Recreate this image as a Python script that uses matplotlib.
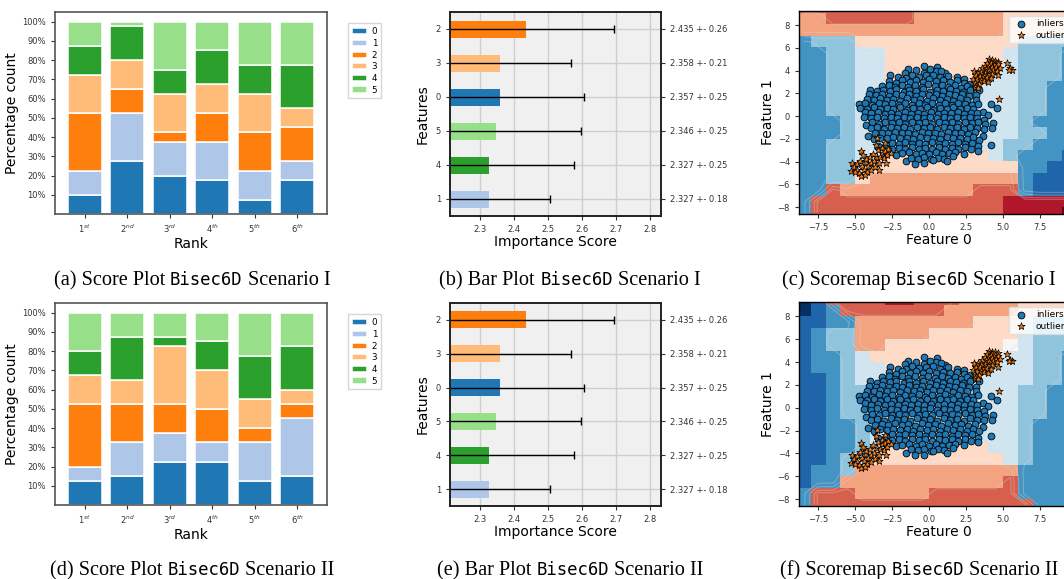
import matplotlib
matplotlib.use('Agg')
import matplotlib.pyplot as plt
import numpy as np

W, H = 1064, 579
fig = plt.figure(figsize=(W / 100, H / 100), dpi=100)

# ---------------- data ----------------
rank_labels = ['1$^{st}$', '2$^{nd}$', '3$^{rd}$', '4$^{th}$', '5$^{th}$', '6$^{th}$']
feature_names = ['0', '1', '2', '3', '4', '5']

# percentage share of each feature (rows) at each rank (columns)
scenario1_shares = [
    [10, 27.5, 20, 17.5, 7.5, 17.5],
    [12.5, 25, 17.5, 20, 15, 10],
    [30, 12.5, 5, 15, 20, 17.5],
    [20, 15, 20, 15, 20, 10],
    [15, 17.5, 12.5, 17.5, 15, 22.5],
    [12.5, 2.5, 25, 15, 22.5, 22.5],
]
scenario2_shares = [
    [12.5, 15, 22.5, 22.5, 12.5, 15],
    [7.5, 17.5, 15, 10, 20, 30],
    [32.5, 20, 15, 17.5, 7.5, 7.5],
    [15, 12.5, 30, 20, 15, 7.5],
    [12.5, 22.5, 5, 15, 22.5, 22.5],
    [20, 12.5, 12.5, 15, 22.5, 17.5],
]

# bar plot (same in both scenarios), bottom to top
bar_features = [1, 4, 5, 0, 3, 2]
bar_scores = [2.327, 2.327, 2.346, 2.357, 2.358, 2.435]
bar_errors = [0.18, 0.25, 0.25, 0.25, 0.21, 0.26]
bar_xticks = [2.3, 2.4, 2.5, 2.6, 2.7, 2.8]

# score maps: level per 1x1 cell, x from -9 to 10 (cols), y from 10 down to -9 (rows)
scoremap_I = [
    "8888888877777766666",
    "7788888877777766666",
    "7777777777777766666",
    "2333666666666663333",
    "2233446666666643332",
    "2233446666666643332",
    "2233446666666443332",
    "2233444466644443322",
    "2233444444444443322",
    "2233444444444443322",
    "2223444444444443222",
    "2223444444444443322",
    "2233444444444433222",
    "2233456666666432221",
    "2233566666666662211",
    "2233677777777772111",
    "2287777777778882111",
    "2888888888888899999",
    "288888888888889999A",
]
scoremap_II = [
    "0188889988877776666",
    "0128888888777776666",
    "1122777777776664333",
    "1233777776666664333",
    "1233776666666654333",
    "1223466666666544332",
    "1223446666666444332",
    "1123446666664444332",
    "1123344666644443322",
    "1123344444444443322",
    "1123344444444443322",
    "1122344444444443222",
    "1122344444444443222",
    "1122346666666443222",
    "1123466666666643222",
    "1223777777777772222",
    "1227777777777782222",
    "2888777778888882222",
    "2888888888888888222",
]

inlier_points = [
    (-0.35, 4.45), (0.52, 4.36), (0.47, 4.0), (1.1, 3.77), (-1.41, 4.12), (-1.64, 3.83), (-0.9, 4.02), (0.05, 4.12), (-0.3, 3.82), (0.85, 3.95),
    (-2.63, 3.6), (-2.1, 3.42), (-1.55, 3.35), (-1.15, 3.62), (-0.65, 3.48), (-0.2, 3.58), (0.3, 3.66), (0.75, 3.42), (1.3, 3.56), (1.88, 3.42), (2.35, 3.27),
    (-2.7, 3.1), (-2.2, 2.96), (-1.8, 3.18), (-1.3, 3.02), (-0.9, 3.2), (-0.42, 3.0), (0.02, 3.24), (0.45, 3.06), (0.98, 3.16), (1.42, 3.0), (1.92, 3.14), (2.39, 2.95), (2.8, 2.82),
    (-3.2, 2.65), (-2.72, 2.74), (-2.3, 2.55), (-1.82, 2.78), (-1.42, 2.6), (-0.95, 2.74), (-0.5, 2.56), (-0.05, 2.8), (0.42, 2.62), (0.86, 2.78), (1.3, 2.58), (1.76, 2.72), (2.2, 2.5), (2.6, 2.68), (2.93, 2.48),
    (-3.99, 2.31), (-3.52, 2.18), (-3.1, 2.34), (-2.62, 2.22), (-2.2, 2.38), (-1.72, 2.16), (-1.32, 2.32), (-0.85, 2.2), (-0.38, 2.38), (0.05, 2.16), (0.52, 2.32), (0.95, 2.18), (1.42, 2.38), (1.85, 2.22), (2.3, 2.16), (2.76, 2.32), (3.4, 2.31),
    (-4.04, 1.93), (-3.58, 1.82), (-3.15, 1.98), (-2.7, 1.78), (-2.25, 1.92), (-1.8, 1.82), (-1.35, 1.98), (-0.88, 1.78), (-0.45, 1.94), (0.02, 1.82), (0.46, 1.98), (0.9, 1.78), (1.36, 1.92), (1.8, 1.84), (2.26, 1.98), (2.7, 1.78), (3.17, 1.85),
    (-4.2, 1.5), (-3.74, 1.42), (-3.3, 1.58), (-2.84, 1.44), (-2.4, 1.52), (-1.94, 1.38), (-1.5, 1.56), (-1.04, 1.42), (-0.6, 1.52), (-0.14, 1.38), (0.3, 1.58), (0.76, 1.44), (1.2, 1.52), (1.66, 1.38), (2.1, 1.56), (2.56, 1.44), (3.17, 1.43),
    (-4.74, 1.05), (-4.3, 1.12), (-3.85, 0.98), (-3.4, 1.16), (-2.95, 1.04), (-2.5, 1.12), (-2.04, 0.98), (-1.6, 1.12), (-1.15, 1.02), (-0.7, 1.16), (-0.25, 0.98), (0.2, 1.12), (0.66, 1.02), (1.1, 1.16), (1.55, 0.98), (2.0, 1.12), (2.45, 1.04), (2.9, 0.98), (3.3, 1.1), (4.23, 1.05),
    (-4.65, 0.7), (-4.2, 0.64), (-3.75, 0.78), (-3.3, 0.6), (-2.85, 0.72), (-2.4, 0.62), (-1.95, 0.78), (-1.5, 0.58), (-1.05, 0.72), (-0.6, 0.62), (-0.15, 0.78), (0.3, 0.58), (0.75, 0.72), (1.2, 0.64), (1.65, 0.78), (2.1, 0.6), (2.55, 0.72), (3.0, 0.64), (3.64, 0.41), (4.58, 0.7),
    (-4.34, 0.38), (-3.9, 0.24), (-3.45, 0.36), (-3.0, 0.2), (-2.55, 0.32), (-2.1, 0.22), (-1.65, 0.36), (-1.2, 0.2), (-0.75, 0.32), (-0.3, 0.22), (0.15, 0.36), (0.6, 0.2), (1.05, 0.32), (1.5, 0.24), (1.95, 0.36), (2.4, 0.2), (2.85, 0.3), (3.25, 0.24), (3.99, 0.12),
    (-4.4, -0.1), (-3.95, -0.16), (-3.5, -0.04), (-3.05, -0.2), (-2.6, -0.08), (-2.15, -0.16), (-1.7, -0.04), (-1.25, -0.2), (-0.8, -0.08), (-0.35, -0.16), (0.1, -0.04), (0.55, -0.2), (1.0, -0.08), (1.45, -0.16), (1.9, -0.04), (2.35, -0.2), (2.8, -0.08), (3.25, -0.16), (3.7, -0.3),
    (-4.27, -0.79), (-3.85, -0.54), (-3.4, -0.66), (-2.95, -0.5), (-2.5, -0.62), (-2.05, -0.54), (-1.6, -0.66), (-1.15, -0.5), (-0.7, -0.62), (-0.25, -0.54), (0.2, -0.66), (0.65, -0.5), (1.1, -0.62), (1.55, -0.54), (2.0, -0.66), (2.45, -0.5), (2.9, -0.62), (3.35, -0.54), (3.8, -0.7), (4.34, -0.61),
    (-3.95, -1.06), (-3.5, -0.98), (-3.05, -1.12), (-2.6, -0.94), (-2.15, -1.06), (-1.7, -0.98), (-1.25, -1.12), (-0.8, -0.94), (-0.35, -1.06), (0.1, -0.98), (0.55, -1.12), (1.0, -0.94), (1.45, -1.06), (1.9, -0.98), (2.35, -1.12), (2.8, -0.94), (3.25, -1.06), (3.7, -1.1), (4.27, -1.05),
    (-4.13, -1.78), (-3.64, -1.49), (-3.2, -1.44), (-2.75, -1.52), (-2.3, -1.38), (-1.85, -1.52), (-1.4, -1.44), (-0.95, -1.56), (-0.5, -1.38), (-0.05, -1.52), (0.4, -1.44), (0.85, -1.56), (1.3, -1.38), (1.75, -1.52), (2.2, -1.44), (2.65, -1.56), (3.1, -1.4), (3.69, -1.73),
    (-3.75, -2.0), (-3.3, -1.9), (-2.85, -1.96), (-2.4, -1.84), (-1.95, -1.96), (-1.5, -1.88), (-1.05, -2.02), (-0.6, -1.84), (-0.15, -1.96), (0.3, -1.88), (0.75, -2.02), (1.2, -1.84), (1.65, -1.96), (2.1, -1.88), (2.55, -2.02), (3.0, -1.84), (3.4, -2.05),
    (-3.45, -2.66), (-2.93, -2.54), (-2.5, -2.34), (-2.05, -2.42), (-1.6, -2.28), (-1.15, -2.42), (-0.7, -2.34), (-0.25, -2.46), (0.2, -2.28), (0.65, -2.42), (1.1, -2.34), (1.55, -2.46), (2.0, -2.28), (2.45, -2.42), (2.9, -2.34), (4.18, -2.51),
    (-2.5, -2.86), (-2.05, -2.78), (-1.6, -2.92), (-1.15, -2.74), (-0.7, -2.86), (-0.25, -2.78), (0.2, -2.92), (0.65, -2.74), (1.1, -2.86), (1.55, -2.78), (2.0, -2.92), (2.45, -2.74), (2.85, -2.9), (3.33, -2.66),
    (-2.23, -3.39), (-1.8, -3.24), (-1.35, -3.18), (-0.9, -3.32), (-0.45, -3.2), (0.0, -3.32), (0.45, -3.18), (0.9, -3.32), (1.35, -3.24), (1.8, -3.18), (2.39, -3.3), (3.33, -3.04),
    (-1.53, -3.92), (-1.2, -3.64), (-0.75, -3.72), (-0.3, -3.6), (0.15, -3.76), (0.6, -3.64), (1.05, -3.72), (1.64, -3.54),
    (-0.94, -4.18), (-0.35, -4.12), (0.31, -3.83), (1.2, -3.92),
]

outlier_points = [
    (4.1, 5.0), (4.3, 4.9), (4.5, 4.85), (4.7, 4.8), (3.95, 4.7), (4.2, 4.65), (4.45, 4.6), (4.65, 4.55), (5.3, 4.7),
    (3.8, 4.45), (4.05, 4.4), (4.3, 4.35), (4.55, 4.3), (4.8, 4.25), (5.5, 4.2), (5.65, 4.1), (5.4, 4.05),
    (3.6, 4.2), (3.85, 4.15), (4.1, 4.1), (4.35, 4.05), (4.6, 4.0), (3.05, 3.95), (3.3, 3.9), (3.55, 3.85),
    (3.8, 3.8), (4.05, 3.75), (4.3, 3.7), (4.65, 3.6), (3.2, 3.6), (3.45, 3.55), (3.7, 3.5), (3.95, 3.45),
    (4.2, 3.4), (3.0, 3.3), (3.25, 3.25), (3.5, 3.2), (3.75, 3.1), (4.0, 3.05), (3.15, 2.9), (3.4, 2.85),
    (3.12, 2.6), (3.35, 2.5), (4.74, 1.5),
    (-5.2, -4.1), (-5.3, -4.85), (-5.05, -4.5), (-4.9, -4.2), (-4.85, -4.75), (-4.75, -5.0), (-4.6, -5.3),
    (-4.6, -3.1), (-4.65, -3.9), (-4.5, -4.4), (-4.4, -4.7), (-4.35, -4.05), (-4.25, -3.75), (-4.2, -4.95),
    (-4.1, -4.4), (-4.0, -3.6), (-3.95, -4.15), (-3.9, -4.75), (-3.8, -3.3), (-3.75, -3.95), (-3.65, -4.5),
    (-3.55, -3.55), (-3.45, -3.0), (-3.4, -4.7), (-3.35, -4.1), (-3.3, -3.6), (-3.2, -2.8), (-3.1, -3.2),
    (-3.05, -3.7), (-2.95, -3.1), (-2.9, -4.1), (-2.85, -3.45), (-2.75, -2.9), (-3.5, -1.95), (-3.6, -2.5),
    (-3.0, -2.4), (-2.6, -3.2), (-4.45, -3.4), (-5.0, -4.95), (-4.3, -5.15),
]

map_xticks = [-7.5, -5.0, -2.5, 0.0, 2.5, 5.0, 7.5]
map_yticks = [-8, -6, -4, -2, 0, 2, 4, 6, 8]

captions = [
    ("(a) Score Plot", "Bisec6D", "Scenario I"),
    ("(b) Bar Plot", "Bisec6D", "Scenario I"),
    ("(c) Scoremap", "Bisec6D", "Scenario I"),
    ("(d) Score Plot", "Bisec6D", "Scenario II"),
    ("(e) Bar Plot", "Bisec6D", "Scenario II"),
    ("(f) Scoremap", "Bisec6D", "Scenario II"),
]

# ---------------- helpers ----------------
tab20 = plt.get_cmap('tab20')
feat_colors = [tab20(i) for i in range(6)]
TICK_FS = 6
LAB_FS = 10


def px_axes(l, t, r, b):
    return fig.add_axes([l / W, 1 - b / H, (r - l) / W, (b - t) / H])


def score_plot(ax, shares):
    x = np.arange(len(rank_labels))
    bottom = np.zeros(len(rank_labels))
    for f, vals in enumerate(shares):
        vals = np.array(vals, dtype=float)
        ax.bar(x, vals, 0.8, bottom=bottom, color=feat_colors[f], edgecolor='white',
               linewidth=1.1, label=feature_names[f])
        bottom += vals
    ax.set_xlim(-0.7, 5.7)
    ax.set_ylim(0, 105)
    ax.set_xticks(x)
    ax.set_xticklabels(rank_labels)
    ax.set_yticks(np.arange(10, 101, 10))
    ax.set_yticklabels([f"{v}%" for v in range(10, 101, 10)])
    ax.tick_params(labelsize=TICK_FS, length=3, width=0.8, colors='#333333')
    ax.set_xlabel('Rank', fontsize=LAB_FS, labelpad=1)
    ax.set_ylabel('Percentage count', fontsize=LAB_FS, labelpad=2)
    for s in ax.spines.values():
        s.set_color('#555555')
        s.set_linewidth(1.2)
    ax.legend(loc='upper left', bbox_to_anchor=(1.06, 0.965), fontsize=6.3,
              handlelength=1.7, handleheight=0.7, borderpad=0.45, labelspacing=0.3,
              handletextpad=0.6, frameon=True, edgecolor='#cccccc', fancybox=False)


def bar_plot(ax):
    y = np.arange(len(bar_features))
    ax.set_facecolor('#f0f0f0')
    ax.set_axisbelow(True)
    ax.grid(True, color='#cfcfcf', linewidth=1.0)
    ax.barh(y, bar_scores, height=0.5, color=[feat_colors[f] for f in bar_features],
            xerr=bar_errors, error_kw=dict(ecolor='black', elinewidth=1.0, capsize=3, capthick=1.0))
    ax.set_xlim(2.211, 2.833)
    ax.set_ylim(-0.5, 5.5)
    ax.set_xticks(bar_xticks)
    ax.set_xticklabels([f"{v:.1f}" for v in bar_xticks])
    ax.set_yticks(y)
    ax.set_yticklabels([str(f) for f in bar_features])
    ax.tick_params(labelsize=TICK_FS, length=3, width=0.8, colors='#333333')
    ax.set_xlabel('Importance Score', fontsize=LAB_FS, labelpad=1)
    ax.set_ylabel('Features', fontsize=LAB_FS, labelpad=4)
    for s in ax.spines.values():
        s.set_color('#222222')
        s.set_linewidth(1.4)
    ax2 = ax.twinx()
    ax2.set_ylim(ax.get_ylim())
    ax2.set_yticks(y)
    ax2.set_yticklabels([f"{s:.3f} +- {e:.2f}" for s, e in zip(bar_scores, bar_errors)])
    ax2.tick_params(labelsize=TICK_FS, length=3, width=0.8, colors='#333333')
    for s in ax2.spines.values():
        s.set_visible(False)


def score_map(ax, rows):
    grid = np.array([[int(c, 16) for c in r] for r in rows], dtype=float)
    ax.imshow(grid, cmap='RdBu_r', vmin=0, vmax=10, extent=(-9, 10, -9, 10),
              origin='upper', interpolation='nearest', aspect='auto')
    xc = np.arange(-8.5, 10, 1.0)
    yc = np.arange(9.5, -9.5, -1.0)
    ax.contour(xc, yc, grid, levels=[2.6, 4.5, 6.4, 7.6], colors='#d8d8d8',
               linewidths=0.8, alpha=0.35)
    ix, iy = zip(*inlier_points)
    ox, oy = zip(*outlier_points)
    ax.scatter(ix, iy, s=24, c='#1f77b4', edgecolors='black', linewidths=0.6, label='inliers', zorder=3)
    ax.scatter(ox, oy, s=30, c='#ff7f0e', marker='*', edgecolors='black', linewidths=0.5,
               label='outliers', zorder=4)
    ax.set_xlim(-8.8, 10.1)
    ax.set_ylim(-8.6, 9.25)
    ax.set_xticks(map_xticks)
    ax.set_yticks(map_yticks)
    ax.tick_params(labelsize=TICK_FS, length=3, width=0.8, colors='#333333')
    ax.set_xlabel('Feature 0', fontsize=LAB_FS, labelpad=1)
    ax.set_ylabel('Feature 1', fontsize=LAB_FS, labelpad=2)
    for s in ax.spines.values():
        s.set_linewidth(1.0)
    ax.legend(loc='upper right', fontsize=6.5, framealpha=0.8, handletextpad=0.6,
              borderpad=0.4, labelspacing=0.3, edgecolor='#dddddd')


# ---------------- panels ----------------
ax_a = px_axes(55, 12, 327, 214)
score_plot(ax_a, scenario1_shares)
ax_d = px_axes(55, 303, 327, 505)
score_plot(ax_d, scenario2_shares)

ax_b = px_axes(450, 12, 661, 216)
bar_plot(ax_b)
ax_e = px_axes(450, 303, 661, 506)
bar_plot(ax_e)

ax_c = px_axes(799, 11, 1078, 214)
score_map(ax_c, scoremap_I)
ax_f = px_axes(799, 302, 1078, 506)
score_map(ax_f, scoremap_II)

# ---------------- captions ----------------
SERIF = 'Liberation Serif'
MONO = 'DejaVu Sans Mono'
CAP_FS = 14.6
MONO_FS = 12.4
renderer = fig.canvas.get_renderer()


def text_width(s, fam, fs):
    t = fig.text(0, 0, s, family=fam, fontsize=fs)
    w = t.get_window_extent(renderer).width
    t.remove()
    return w


space = text_width('a a', SERIF, CAP_FS) - text_width('aa', SERIF, CAP_FS)


def caption(cx, cy, parts):
    specs = [(SERIF, CAP_FS), (MONO, MONO_FS), (SERIF, CAP_FS)]
    widths = [text_width(p, f, fs) for p, (f, fs) in zip(parts, specs)]
    total = sum(widths) + space * (len(parts) - 1)
    x = cx - total / 2
    for p, (f, fs), w in zip(parts, specs, widths):
        fig.text(x / W, 1 - cy / H, p, family=f, fontsize=fs, va='baseline', ha='left')
        x += w + space


cap_pos = [(192, 285), (570, 285), (919, 285), (192, 575), (570, 575), (919, 575)]
for (cx, cy), parts in zip(cap_pos, captions):
    caption(cx, cy, parts)

fig.savefig('out.png', dpi=100)
